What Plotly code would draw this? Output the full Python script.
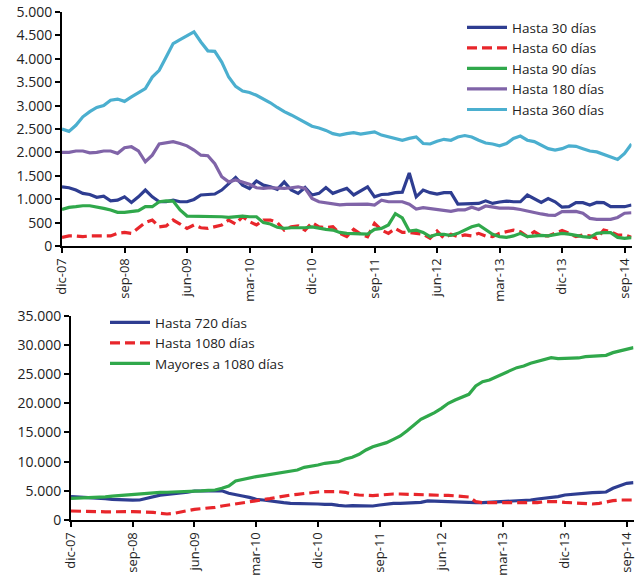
import plotly.graph_objects as go

# ---------------- data ----------------
month_names = ["ene", "feb", "mar", "abr", "may", "jun", "jul", "ago", "sep", "oct", "nov", "dic"]
months = []
y, m = 2007, 11
for _ in range(83):
    months.append(f"{month_names[m]}-{str(y)[2:]}")
    m += 1
    if m == 12:
        m = 0
        y += 1

tick_idx = list(range(0, 82, 9))
tick_labels = [months[i] for i in tick_idx]

hasta_30 = [1265, 1245, 1195, 1125, 1100, 1040, 1065, 965, 980, 1050, 930, 1050, 1195, 1050, 945, 945, 980, 945, 945, 995,
            1090, 1100, 1110, 1195, 1335, 1465, 1300, 1230, 1390, 1300, 1265, 1210, 1370, 1195, 1125, 1250, 1090, 1125, 1250, 1125,
            1180, 1230, 1090, 1180, 1265, 1050, 1100, 1110, 1140, 1150, 1560, 1050, 1195, 1140, 1110, 1140, 1140, 895, 895, 910,
            910, 965, 910, 940, 960, 945, 945, 1090, 1015, 930, 1015, 945, 830, 840, 925, 925, 875, 930, 925, 840,
            840, 840, 875]
hasta_60 = [185, 215, 215, 200, 215, 215, 200, 215, 270, 290, 270, 375, 500, 555, 410, 430, 555, 470, 375, 450,
            390, 375, 410, 450, 555, 470, 625, 520, 450, 555, 555, 500, 340, 410, 430, 340, 500, 410, 390, 410,
            270, 200, 355, 255, 200, 485, 340, 270, 375, 290, 290, 270, 250, 165, 320, 165, 250, 200, 235, 215,
            270, 215, 200, 270, 305, 340, 305, 200, 305, 215, 215, 270, 330, 270, 200, 235, 215, 165, 340, 305,
            235, 235, 185]
hasta_90 = [780, 825, 840, 860, 860, 840, 805, 770, 720, 720, 735, 755, 840, 840, 945, 965, 960, 770, 640, 640,
            640, 640, 625, 625, 610, 625, 640, 625, 625, 500, 470, 400, 375, 390, 390, 390, 410, 375, 355, 340,
            290, 270, 270, 270, 255, 355, 375, 450, 690, 600, 320, 340, 290, 200, 250, 250, 225, 270, 340, 410,
            450, 355, 250, 200, 185, 215, 270, 200, 215, 225, 215, 235, 270, 255, 225, 200, 185, 270, 285, 285,
            185, 165, 180]
hasta_180 = [2000, 2000, 2030, 2030, 1990, 2000, 2030, 2030, 1980, 2100, 2120, 2030, 1800, 1940, 2180, 2200, 2230, 2190, 2140, 2050,
             1940, 1930, 1760, 1480, 1370, 1410, 1370, 1320, 1245, 1230, 1245, 1230, 1230, 1245, 1265, 1230, 1015, 945, 920, 890,
             880, 890, 895, 900, 895, 875, 980, 945, 945, 945, 895, 790, 820, 800, 770, 745, 740, 770, 770, 830,
             780, 855, 830, 810, 810, 805, 780, 745, 710, 685, 660, 655, 735, 745, 740, 700, 590, 570, 570, 570,
             610, 700, 710]
hasta_360 = [2500, 2450, 2580, 2760, 2870, 2960, 3000, 3115, 3140, 3090, 3185, 3270, 3365, 3610, 3755, 4040, 4325, 4410, 4500, 4575,
             4360, 4170, 4160, 3930, 3610, 3410, 3310, 3280, 3220, 3140, 3060, 2960, 2870, 2800, 2720, 2630, 2560, 2520, 2470, 2400,
             2370, 2400, 2420, 2390, 2420, 2440, 2370, 2330, 2290, 2260, 2300, 2330, 2190, 2180, 2240, 2280, 2260, 2330, 2360, 2330,
             2260, 2200, 2180, 2140, 2190, 2300, 2350, 2260, 2230, 2150, 2080, 2050, 2080, 2140, 2130, 2080, 2030, 2010, 1960, 1905,
             1850, 1980, 2180]

hasta_720 = [4000, 3950, 3900, 3800, 3710, 3650, 3550, 3480, 3430, 3400, 3430, 3710, 4110, 4250, 4400, 4500, 4570, 4750, 4970, 5030,
             4970, 4970, 5000, 4570, 4280, 4110, 3880, 3540, 3430, 3260, 3030, 2970, 2860, 2860, 2860, 2800, 2740, 2680, 2680, 2510,
             2400, 2460, 2460, 2510, 2400, 2570, 2740, 2860, 2860, 2910, 2970, 3030, 3260, 3200, 3140, 3140, 3080, 3080, 3030, 2970,
             2970, 3030, 3080, 3140, 3140, 3260, 3310, 3430, 3600, 3710, 3830, 4000, 4280, 4400, 4570, 4570, 4680, 4740, 4800, 5430,
             5830, 6280, 6400]
hasta_1080 = [1540, 1540, 1540, 1480, 1430, 1400, 1370, 1400, 1430, 1430, 1430, 1400, 1310, 1140, 1030, 1140, 1310, 1600, 1830, 1940,
              2000, 2170, 2400, 2570, 2680, 2860, 3030, 3260, 3430, 3660, 3880, 4110, 4280, 4400, 4570, 4680, 4800, 4850, 4910, 4850,
              4740, 4400, 4280, 4170, 4170, 4280, 4400, 4450, 4450, 4400, 4400, 4400, 4340, 4280, 4230, 4230, 4110, 4000, 3940, 3140,
              2970, 2970, 2970, 2970, 2970, 2910, 2860, 2860, 2970, 3140, 3200, 3140, 3030, 2970, 2970, 2860, 2740, 2860, 3140, 3310,
              3430, 3430, 3430]
mayores_1080 = [3710, 3750, 3780, 3800, 3830, 3950, 4080, 4180, 4280, 4400, 4500, 4600, 4680, 4720, 4750, 4780, 4800, 4850, 4910, 4980,
                5060, 5140, 5430, 5830, 6680, 6970, 7200, 7420, 7600, 7800, 8000, 8200, 8400, 8570, 9020, 9200, 9420, 9710, 9820, 9990,
                10450, 10740, 11250, 11990, 12560, 12960, 13250, 13820, 14390, 15300, 16280, 17250, 17820, 18390, 19130, 19990, 20560, 21020, 21530, 22960,
                23700, 23990, 24560, 25130, 25590, 26100, 26390, 26840, 27130, 27410, 27810, 27640, 27640, 27640, 27760, 27980, 28100, 28100, 28210, 28670,
                28950, 29300, 29530]

# ---------------- figure ----------------
W, H = 642, 575


def px(xp):
    return xp / W


def py(yp):
    return 1 - yp / H


FONT = "Open Sans"
x_idx = list(range(len(months)))

C_BLUE = "#2E3D91"
C_RED = "#E8262B"
C_GREEN = "#30A84B"
C_PURPLE = "#8064A8"
C_CYAN = "#4BAFCF"
LW = 3.2
DASH = "10px,5px"

fig = go.Figure()

top_series = [
    ("Hasta 30 días", hasta_30, C_BLUE, "solid"),
    ("Hasta 60 días", hasta_60, C_RED, DASH),
    ("Hasta 90 días", hasta_90, C_GREEN, "solid"),
    ("Hasta 180 días", hasta_180, C_PURPLE, "solid"),
    ("Hasta 360 días", hasta_360, C_CYAN, "solid"),
]
for name, vals, col, dash in top_series:
    fig.add_trace(go.Scatter(x=x_idx, y=vals, name=name, mode="lines",
                             line=dict(color=col, width=LW, dash=dash),
                             xaxis="x", yaxis="y", legend="legend"))

bottom_series = [
    ("Hasta 720 días", hasta_720, C_BLUE, "solid"),
    ("Hasta 1080 días", hasta_1080, C_RED, DASH),
    ("Mayores a 1080 días", mayores_1080, C_GREEN, "solid"),
]
for name, vals, col, dash in bottom_series:
    fig.add_trace(go.Scatter(x=x_idx, y=vals, name=name, mode="lines",
                             line=dict(color=col, width=LW, dash=dash),
                             xaxis="x2", yaxis="y2", legend="legend2"))

tickfont = dict(family=FONT, size=14, color="#222222")
common_x = dict(range=[0, 82], tickmode="array", tickvals=tick_idx, ticktext=tick_labels,
                tickangle=-90, showline=True, linecolor="black", linewidth=2,
                ticks="outside", ticklen=5, tickwidth=1.5, tickcolor="black",
                showgrid=False, zeroline=False, tickfont=dict(tickfont, size=13),
                automargin=False, ticklabeloverflow="allow")
common_y = dict(showline=True, linecolor="black", linewidth=2,
                ticks="outside", ticklen=5, tickwidth=1.5, tickcolor="black",
                showgrid=False, zeroline=False, tickfont=tickfont, tickformat=",d",
                automargin=False, ticklabeloverflow="allow")

legend_common = dict(xanchor="left", yanchor="top", bgcolor="rgba(0,0,0,0)",
                     font=dict(family=FONT, size=13.5, color="#222222"),
                     tracegroupgap=0, itemwidth=40)

fig.update_layout(
    width=W, height=H,
    margin=dict(l=0, r=0, t=0, b=0),
    paper_bgcolor="white", plot_bgcolor="white",
    separators=",.",
    font=dict(family=FONT, size=13.5, color="#222222"),
    xaxis=dict(common_x, domain=[px(62), px(631.5)], anchor="y"),
    yaxis=dict(common_y, domain=[py(246), py(12)], range=[0, 5000], dtick=500, anchor="x"),
    xaxis2=dict(common_x, domain=[px(71), px(633.5)], anchor="y2"),
    yaxis2=dict(common_y, domain=[py(520), py(315.7)], range=[0, 35000], dtick=5000, anchor="x2"),
    legend=dict(legend_common, x=px(462), y=py(12)),
    legend2=dict(legend_common, x=px(105), y=py(307)),
    showlegend=True,
)

# the page's default 8px body margin would push the fixed-size figure off the window
fig.write_html("out.html", config={"displayModeBar": False},
               post_script="document.body.style.margin='0';")
